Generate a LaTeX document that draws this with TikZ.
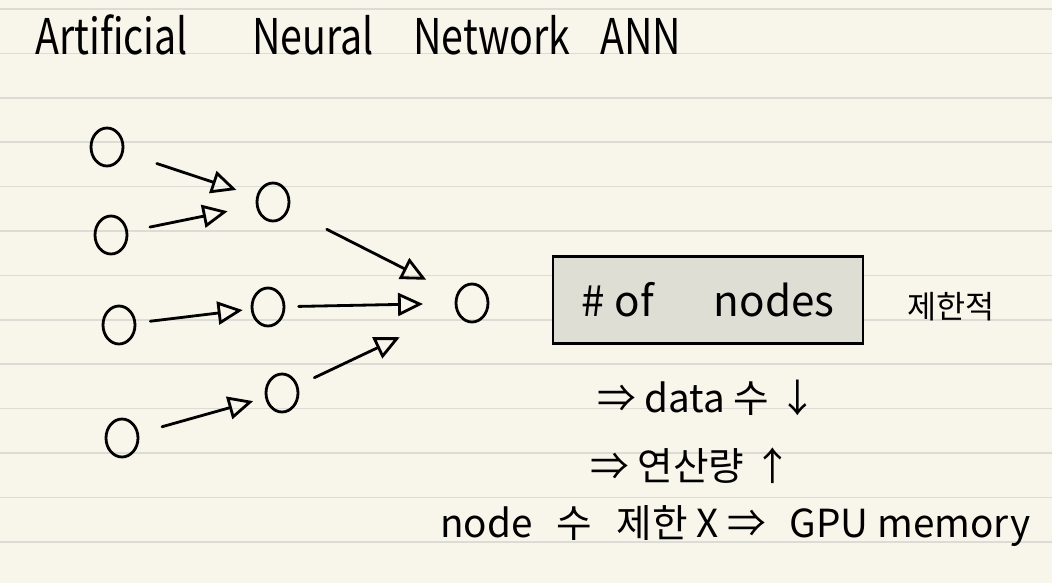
\documentclass[tikz,border=0pt]{standalone}
\usepackage{fontspec}
\setmainfont{Noto Sans CJK KR}
\usepackage{tikz}
\usetikzlibrary{arrows.meta,calc,shapes.geometric}
\definecolor{paper}{HTML}{F8F6EA}
\definecolor{ruled}{HTML}{DCDCD6}
\definecolor{boxfill}{HTML}{DFDED4}
\newcommand{\narrow}[1]{\scalebox{0.8}[1]{#1}}
\tikzset{
  neuron/.style   = {ellipse,draw,line width=1.6pt,minimum width=0.64cm,minimum height=0.76cm,inner sep=0pt},
  synarr/.style   = {-{Triangle[open,length=5mm,width=4.6mm,line width=1.6pt]},line width=1.6pt,line cap=round},
  ruleline/.style = {ruled,line width=1pt},
  titletext/.style= {font=\fontsize{28}{32}\selectfont,inner sep=0pt,anchor=base west},
  hand/.style     = {font=\fontsize{22}{26}\selectfont,inner sep=0pt,anchor=base west},
  notebox/.style  = {draw,line width=1.2pt,fill=boxfill,minimum width=6.2cm,minimum height=1.74cm,
                     font=\fontsize{24}{28}\selectfont}
}

\begin{document}
\begin{tikzpicture}[x=0.02cm,y=-0.02cm]
  \fill[paper] (0,0) rectangle (1052,583);
  \useasboundingbox (0,0) rectangle (1052,583);
  \foreach \k in {0,...,12}
    \draw[ruleline] (0,9+44.4*\k) -- (1052,9+44.4*\k);

  % title
  \node[titletext] (tA) at (35,54)  {\narrow{Artificial}};
  \node[titletext] (tB) at (252,54) {\narrow{Neural}};
  \node[titletext] (tC) at (413,54) {\narrow{Network}};
  \node[titletext] (tD) at (600,54) {\narrow{ANN}};

  % network
  \node[neuron] (i1) at (107,147) {};
  \node[neuron] (i2) at (111,235) {};
  \node[neuron] (i3) at (119,325) {};
  \node[neuron] (i4) at (122,438) {};
  \node[neuron] (h1) at (273,202) {};
  \node[neuron] (h2) at (268,307) {};
  \node[neuron] (h3) at (282,393) {};
  \node[neuron] (o)  at (472,303) {};

  \draw[synarr] ($(i1)!0.30!(h1)$) -- ($(i1)!0.78!(h1)$);
  \draw[synarr] ($(i2)!0.24!(h1)$) -- ($(i2)!0.72!(h1)$);
  \draw[synarr] ($(i3)!0.21!(h2)$) -- ($(i3)!0.83!(h2)$);
  \draw[synarr] ($(i4)!0.25!(h3)$) -- ($(i4)!0.82!(h3)$);
  \draw[synarr] ($(h1)!0.27!(o)$) -- ($(h1)!0.77!(o)$);
  \draw[synarr] ($(h2)!0.15!(o)$) -- ($(h2)!0.76!(o)$);
  \draw[synarr] ($(h3)!0.17!(o)$) -- ($(h3)!0.62!(o)$);

  % notes
  \node[notebox] (cnt) at (708,300) {\# of\hspace{1.2cm}nodes};
  \node[hand,font=\fontsize{18}{22}\selectfont] (lim) at (907,318) {제한적};
  \node[hand] (n1) at (597,412) {⇒ data 수 ↓};
  \node[hand] (n2) at (590,480) {⇒ 연산량 ↑};
  \node[hand] (n3) at (440,537) {node\hspace{0.4em} 수\hspace{0.4em} 제한 X ⇒\hspace{0.4em} GPU memory};
\end{tikzpicture}
\end{document}
